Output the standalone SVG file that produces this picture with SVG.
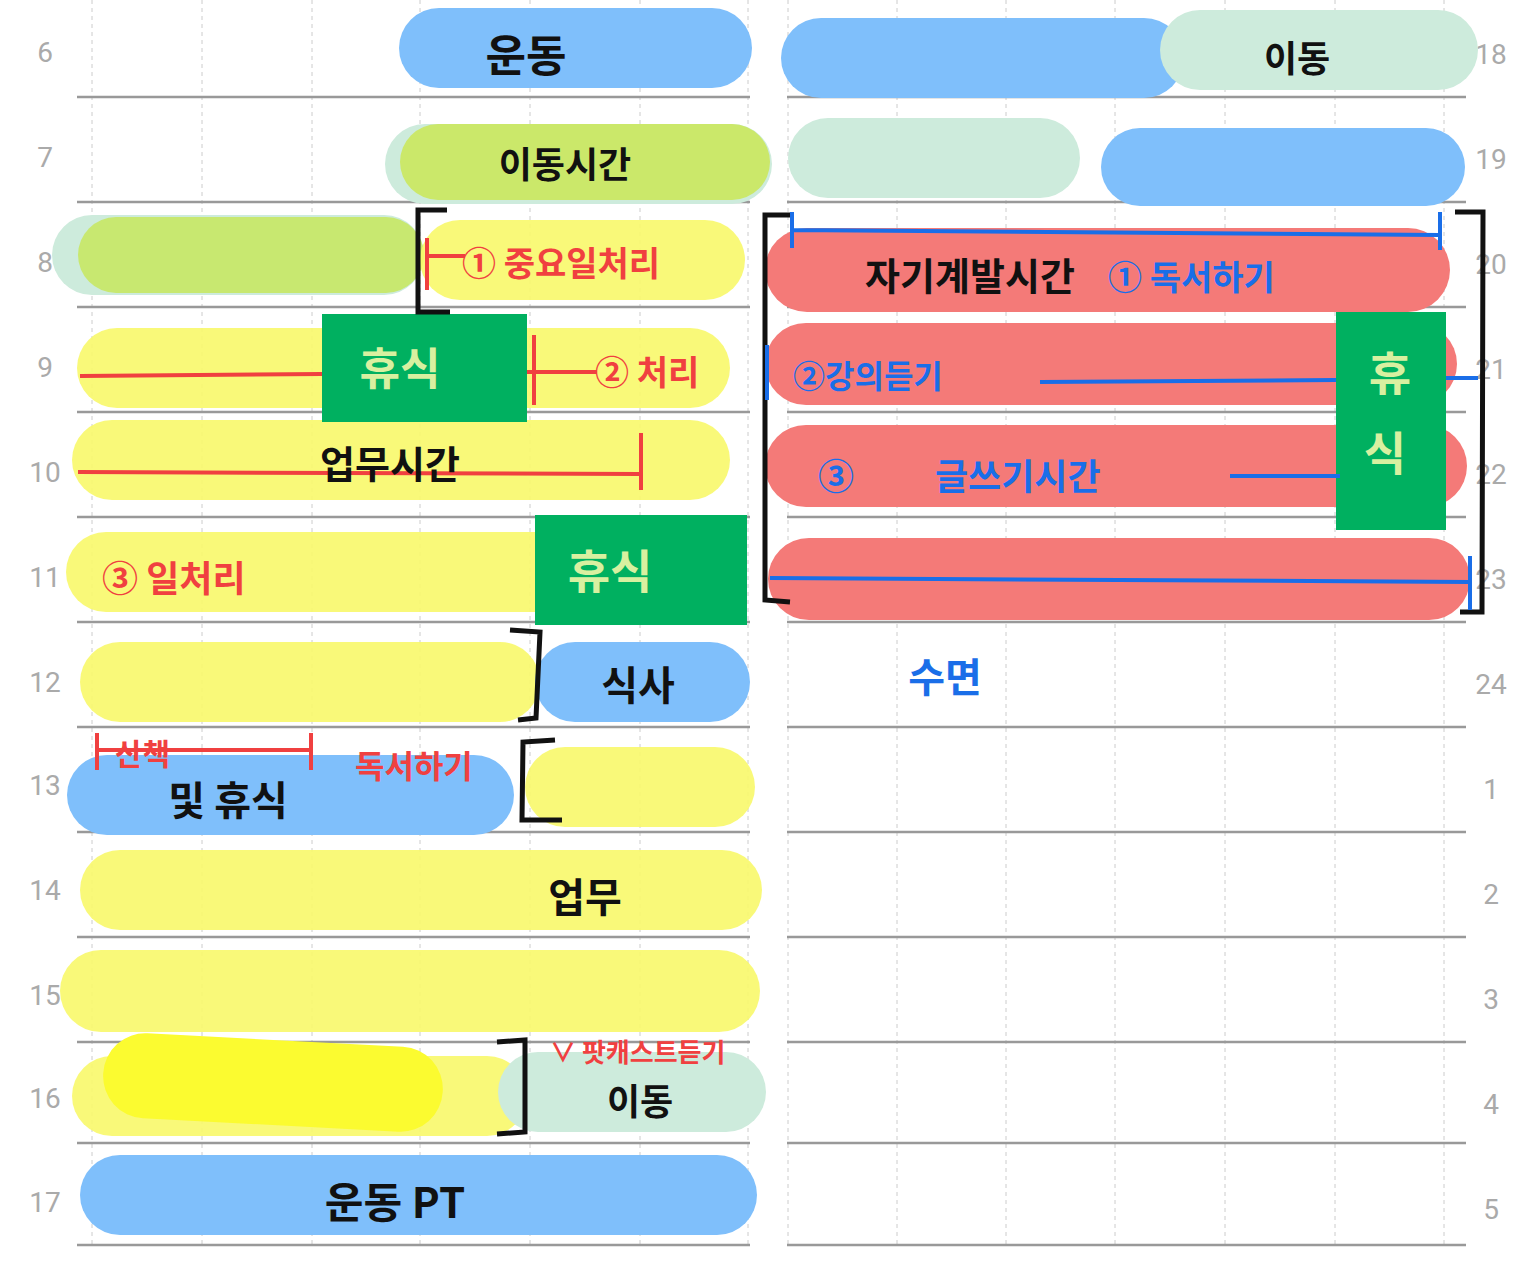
<svg xmlns="http://www.w3.org/2000/svg" width="1521" height="1278" viewBox="0 0 1521 1278">
<style>
.num{font-family:"Roboto","Liberation Sans",sans-serif;font-size:28px;fill:#aaa;text-anchor:middle}
.hl{stroke:#999;stroke-width:2.5}
.vl{stroke:#ccc;stroke-width:1;stroke-dasharray:4 4}
.k{font-family:"Noto Sans CJK KR",sans-serif;font-weight:bold;fill:#111;text-anchor:middle}
.r{font-family:"Noto Sans CJK KR",sans-serif;font-weight:bold;fill:#f04040}
.b{font-family:"Noto Sans CJK KR",sans-serif;font-weight:bold;fill:#1a6ee8}
.w{font-family:"Noto Sans CJK KR",sans-serif;font-weight:bold;fill:#d8f0a0;text-anchor:middle}
.y{fill:#f8f86a;opacity:.9}
.bl{fill:#7fbffb}
.mint{fill:#cdebdc}
.red{fill:#f47a78}
.grn{fill:#00b060}
.rl{stroke:#f04040;stroke-width:4;fill:none}
.bln{stroke:#1a6ee8;stroke-width:4;fill:none}
.bk{stroke:#111;stroke-width:5;fill:none}
</style>
<rect width="1521" height="1278" fill="#fff"/>
<g id="grid">
<g class="vl">
<line x1="92" y1="0" x2="92" y2="1245"/><line x1="202" y1="0" x2="202" y2="1245"/><line x1="312" y1="0" x2="312" y2="1245"/><line x1="420" y1="0" x2="420" y2="1245"/><line x1="530" y1="0" x2="530" y2="1245"/><line x1="640" y1="0" x2="640" y2="1245"/><line x1="748" y1="0" x2="748" y2="1245"/>
<line x1="788" y1="0" x2="788" y2="1245"/><line x1="897" y1="0" x2="897" y2="1245"/><line x1="1006" y1="0" x2="1006" y2="1245"/><line x1="1115" y1="0" x2="1115" y2="1245"/><line x1="1225" y1="0" x2="1225" y2="1245"/><line x1="1335" y1="0" x2="1335" y2="1245"/><line x1="1444" y1="0" x2="1444" y2="1245"/>
</g>
<g class="hl">
<line x1="77" y1="97" x2="750" y2="97"/><line x1="77" y1="202" x2="750" y2="202"/><line x1="77" y1="307" x2="750" y2="307"/><line x1="77" y1="412" x2="750" y2="412"/><line x1="77" y1="517" x2="750" y2="517"/><line x1="77" y1="622" x2="750" y2="622"/><line x1="77" y1="727" x2="750" y2="727"/><line x1="77" y1="832" x2="750" y2="832"/><line x1="77" y1="937" x2="750" y2="937"/><line x1="77" y1="1042" x2="750" y2="1042"/><line x1="77" y1="1143" x2="750" y2="1143"/><line x1="77" y1="1245" x2="750" y2="1245"/>
<line x1="787" y1="97" x2="1466" y2="97"/><line x1="787" y1="202" x2="1466" y2="202"/><line x1="787" y1="307" x2="1466" y2="307"/><line x1="787" y1="412" x2="1466" y2="412"/><line x1="787" y1="517" x2="1466" y2="517"/><line x1="787" y1="622" x2="1466" y2="622"/><line x1="787" y1="727" x2="1466" y2="727"/><line x1="787" y1="832" x2="1466" y2="832"/><line x1="787" y1="937" x2="1466" y2="937"/><line x1="787" y1="1042" x2="1466" y2="1042"/><line x1="787" y1="1143" x2="1466" y2="1143"/><line x1="787" y1="1245" x2="1466" y2="1245"/>
</g>
<g class="num">
<text x="45" y="62">6</text><text x="45" y="167">7</text><text x="45" y="272">8</text><text x="45" y="377">9</text><text x="45" y="482">10</text><text x="45" y="587">11</text><text x="45" y="692">12</text><text x="45" y="795">13</text><text x="45" y="900">14</text><text x="45" y="1005">15</text><text x="45" y="1108">16</text><text x="45" y="1212">17</text>
<text x="1491" y="64">18</text><text x="1491" y="169">19</text><text x="1491" y="274">20</text><text x="1491" y="379">21</text><text x="1491" y="484">22</text><text x="1491" y="589">23</text><text x="1491" y="694">24</text><text x="1491" y="799">1</text><text x="1491" y="904">2</text><text x="1491" y="1009">3</text><text x="1491" y="1114">4</text><text x="1491" y="1219">5</text>
</g>
</g>
<g id="blocks">
<rect class="bl" x="399" y="8" width="353" height="80" rx="40"/>
<rect class="mint" x="385" y="124" width="387" height="80" rx="40"/>
<rect x="400" y="124" width="370" height="76" rx="38" fill="#cbe86a"/>
<rect class="mint" x="52" y="215" width="372" height="80" rx="40"/>
<rect x="78" y="217" width="346" height="76" rx="38" fill="#c8e870"/>
<rect class="y" x="420" y="220" width="325" height="80" rx="40"/>
<rect class="y" x="77" y="328" width="653" height="80" rx="40"/>
<rect class="y" x="72" y="420" width="658" height="80" rx="40"/>
<rect class="y" x="66" y="532" width="580" height="80" rx="40"/>
<rect class="y" x="80" y="642" width="460" height="80" rx="40"/>
<rect class="bl" x="535" y="642" width="215" height="80" rx="40"/>
<rect class="bl" x="67" y="755" width="447" height="80" rx="40"/>
<rect class="y" x="525" y="747" width="230" height="80" rx="40"/>
<rect class="y" x="80" y="850" width="682" height="80" rx="40"/>
<rect class="y" x="60" y="950" width="700" height="82" rx="41"/>
<rect class="y" x="72" y="1056" width="455" height="80" rx="40"/>
<rect x="103" y="1040" width="340" height="85" rx="42" fill="#fbfb30" transform="rotate(3 273 1082)"/>
<rect class="mint" x="498" y="1052" width="268" height="80" rx="40"/>
<rect class="bl" x="80" y="1155" width="677" height="80" rx="40"/>
<rect class="grn" x="322" y="314" width="205" height="108"/>
<rect class="grn" x="535" y="515" width="212" height="110"/>
<rect class="bl" x="781" y="18" width="403" height="80" rx="40"/>
<rect class="mint" x="1160" y="10" width="318" height="80" rx="40"/>
<rect class="mint" x="788" y="118" width="292" height="80" rx="40"/>
<rect class="bl" x="1101" y="128" width="364" height="78" rx="39"/>
<rect class="red" x="765" y="228" width="685" height="84" rx="42"/>
<rect class="red" x="765" y="323" width="692" height="82" rx="41"/>
<rect class="red" x="765" y="425" width="702" height="82" rx="41"/>
<rect class="red" x="768" y="538" width="702" height="82" rx="41"/>
<rect class="grn" x="1336" y="312" width="110" height="218"/>
</g>
<g id="marks">
<path class="rl" d="M80 376 L322 374 M527 372 L597 372 M534 335 L534 405 M78 472 L640 474 M641 433 L641 490 M427 256 L465 256 M427 238 L427 290 M97 750 L311 750 M97 733 L97 770 M311 733 L311 770"/>
<path class="bk" d="M447 210 L418 210 L418 312 L450 312 M510 630 L540 632 L536 718 L518 720 M555 740 L523 742 L522 820 L562 820 M497 1042 L525 1040 L525 1132 L497 1134 M790 215 L765 215 L765 600 L790 602 M1455 212 L1483 212 L1482 612 L1460 612"/>
<path class="bln" d="M792 230 L1440 235 M792 212 L792 248 M1440 212 L1440 250 M1040 382 L1336 380 M1446 378 L1478 378 M1230 476 L1340 476 M770 578 L1470 582 M1470 556 L1470 610 M767 345 L767 400"/>
</g>
<g id="labels">
<text class="k" x="526" y="72" font-size="44">운동</text>
<text class="k" x="565" y="178" font-size="36">이동시간</text>
<text class="r" x="462" y="276" font-size="34">① 중요일처리</text>
<text class="w" x="400" y="385" font-size="44">휴식</text>
<text class="r" x="595" y="385" font-size="34">② 처리</text>
<text class="k" x="390" y="478" font-size="38">업무시간</text>
<text class="r" x="102" y="592" font-size="36">③ 일처리</text>
<text class="w" x="610" y="588" font-size="46">휴식</text>
<text class="k" x="638" y="700" font-size="40">식사</text>
<text class="r" x="115" y="765" font-size="30">산책</text>
<text class="r" x="355" y="778" font-size="32">독서하기</text>
<text class="k" x="228" y="815" font-size="40">및 휴식</text>
<text class="k" x="585" y="912" font-size="40">업무</text>
<text class="r" x="550" y="1062" font-size="26">∨ 팟캐스트듣기</text>
<text class="k" x="640" y="1115" font-size="36">이동</text>
<text class="k" x="395" y="1218" font-size="42">운동 PT</text>
<text class="k" x="1297" y="72" font-size="36">이동</text>
<text class="k" x="970" y="290" font-size="38">자기계발시간</text>
<text class="b" x="1108" y="290" font-size="34">① 독서하기</text>
<text class="b" x="793" y="388" font-size="32">②강의듣기</text>
<text class="b" x="818" y="490" font-size="36">③</text>
<text class="b" x="935" y="490" font-size="36">글쓰기시간</text>
<text class="w" x="1390" y="390" font-size="46">휴</text>
<text class="w" x="1385" y="470" font-size="46">식</text>
<text class="b" x="945" y="692" font-size="40" text-anchor="middle">수면</text>
</g>
</svg>
